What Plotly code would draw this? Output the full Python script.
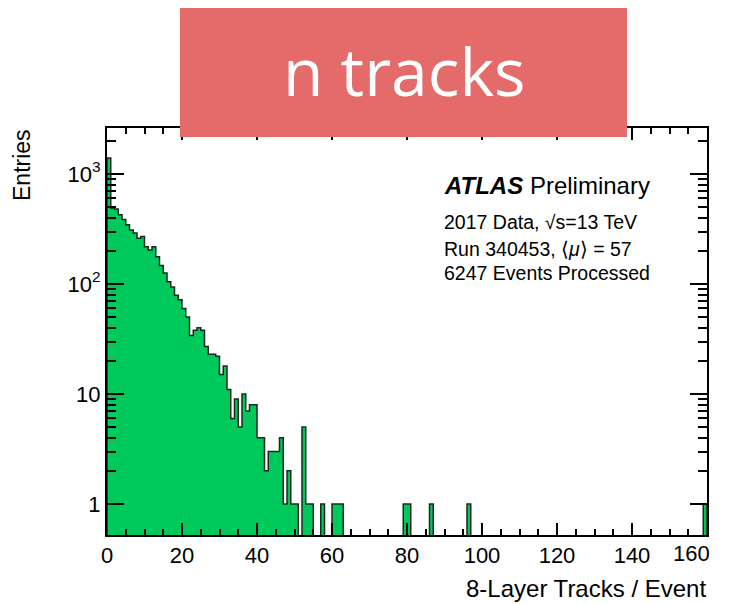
import plotly.graph_objects as go

# ---- data ----
bin_edges_start = 0
bin_width = 1
n_bins = 160
entries_low = [1400, 490, 480, 425, 385, 345, 310, 290, 260, 270,
               218, 204, 218, 177, 147, 126, 105, 94, 79, 72,
               60, 50, 34, 38, 40, 38, 27, 23, 23, 22,
               15, 18, 11, 6, 9, 5, 10, 7, 8, 8,
               4, 4, 2, 3, 3, 3, 4, 1, 2, 1,
               1, 0, 5, 1, 1, 0, 0, 1, 0, 0,
               1, 1, 1, 0]
sparse_bins = [79, 80, 86, 96, 159]
sparse_counts = [1, 1, 1, 1, 1]

x_tick_vals = [0, 20, 40, 60, 80, 100, 120, 140, 160]
x_tick_text = ["0", "20", "40", "60", "80", "100", "120", "140", "160"]
y_tick_vals = [1, 10, 100, 1000]
y_tick_text = ["1", "10", "10<sup>2</sup>", "10<sup>3</sup>"]
y_minor_vals = [m * d for d in (1, 10, 100) for m in range(2, 10)] + [2000]

title_text = "n tracks"
x_title = "8-Layer Tracks / Event"
y_title = "Entries"
label_lines = ["<b><i>ATLAS</i></b> Preliminary",
               "2017 Data, √s=13 TeV",
               "Run 340453, ⟨<i>μ</i>⟩ = 57",
               "6247 Events Processed"]

# ---- build histogram ----
counts = entries_low + [0] * (n_bins - len(entries_low))
for b, c in zip(sparse_bins, sparse_counts):
    counts[b] = c

floor = 0.05  # below visible range, for empty bins / fill base
edges = [bin_edges_start + i * bin_width for i in range(n_bins + 1)]
yplot = [c if c > 0 else floor for c in counts]

fx = [edges[0]] + edges[:-1] + [edges[-1], edges[-1]]
fy = [floor] + yplot + [yplot[-1], floor]

fig = go.Figure()
fig.add_trace(go.Scatter(x=fx, y=fy, mode="lines", line_shape="hv",
                         fill="toself", fillcolor="#00C95C",
                         line=dict(color="#1b2a1f", width=1.5),
                         hoverinfo="skip", showlegend=False))

font_main = "Liberation Sans, Arial, sans-serif"
OFF = 8  # default page body margin shifts the figure by 8 px
L, R, T, B = 107 - OFF, 22, 128 - OFF, 69
W, H = 729 - OFF, 604 - OFF
pw, ph = W - L - R, H - T - B

def px(xp):  # screen x -> paper
    return (xp - OFF - L) / pw

def py(yp):  # screen y -> paper
    return (H - B - (yp - OFF)) / ph

# last x label is drawn pulled inward (as in the reference) so it is not clipped
axis_tick_text = x_tick_text[:-1] + [""]

fig.update_layout(
    width=W, height=H, autosize=False,
    margin=dict(l=L, r=R, t=T, b=B, autoexpand=False),
    paper_bgcolor="white", plot_bgcolor="white",
    font=dict(family=font_main, color="black"),
    showlegend=False,
    xaxis=dict(range=[0, 160], tickvals=x_tick_vals, ticktext=axis_tick_text,
               ticks="inside", ticklen=12, tickwidth=1.5, tickcolor="black",
               automargin=False,
               minor=dict(dtick=5, tick0=0, ticks="inside", ticklen=6,
                          tickwidth=1.5, tickcolor="black", showgrid=False),
               showline=True, linecolor="black", linewidth=2, mirror="allticks",
               showgrid=False, zeroline=False,
               tickfont=dict(size=22, family=font_main)),
    yaxis=dict(type="log", range=[-0.282, 3.418], tickvals=y_tick_vals,
               ticktext=y_tick_text, ticks="inside", ticklen=17, tickwidth=1.5,
               tickcolor="black", automargin=False,
               minor=dict(tickmode="array", tickvals=y_minor_vals, ticks="inside",
                          ticklen=9, tickwidth=1.5, tickcolor="black", showgrid=False),
               showline=True, linecolor="black", linewidth=2, mirror="allticks",
               showgrid=False, zeroline=False,
               tickfont=dict(size=22, family=font_main)),
)

# red title box
fig.add_shape(type="rect", xref="paper", yref="paper",
              x0=px(180), x1=px(627), y0=py(137), y1=py(8),
              fillcolor="#E56B6B", line=dict(width=0), layer="above")

annotations = [
    dict(text=title_text, x=px(404), y=py(70), xref="paper", yref="paper",
         xanchor="center", yanchor="middle", showarrow=False,
         font=dict(family="Open Sans, sans-serif", size=66, color="white")),
    dict(text=y_title, x=px(22), y=py(127), xref="paper", yref="paper",
         xanchor="center", yanchor="top", textangle=-90, showarrow=False,
         font=dict(size=23, family=font_main)),
    dict(text=x_title, x=px(708), y=py(588), xref="paper", yref="paper",
         xanchor="right", yanchor="middle", showarrow=False,
         font=dict(size=24, family=font_main)),
    dict(text=x_tick_text[-1], x=x_tick_vals[-1], xref="x", y=py(553), yref="paper",
         xanchor="right", yanchor="middle", xshift=5, showarrow=False,
         font=dict(size=22, family=font_main)),
]
line_centers = [185, 222, 249, 273]
line_sizes = [24, 19.5, 19.5, 19.5]
for t, yc, s in zip(label_lines, line_centers, line_sizes):
    annotations.append(dict(text=t, x=px(442), y=py(yc), xref="paper", yref="paper",
                            xanchor="left", yanchor="middle", showarrow=False,
                            font=dict(size=s, family=font_main)))
fig.update_layout(annotations=annotations)

fig.write_html("out.html", config={"displayModeBar": False})
